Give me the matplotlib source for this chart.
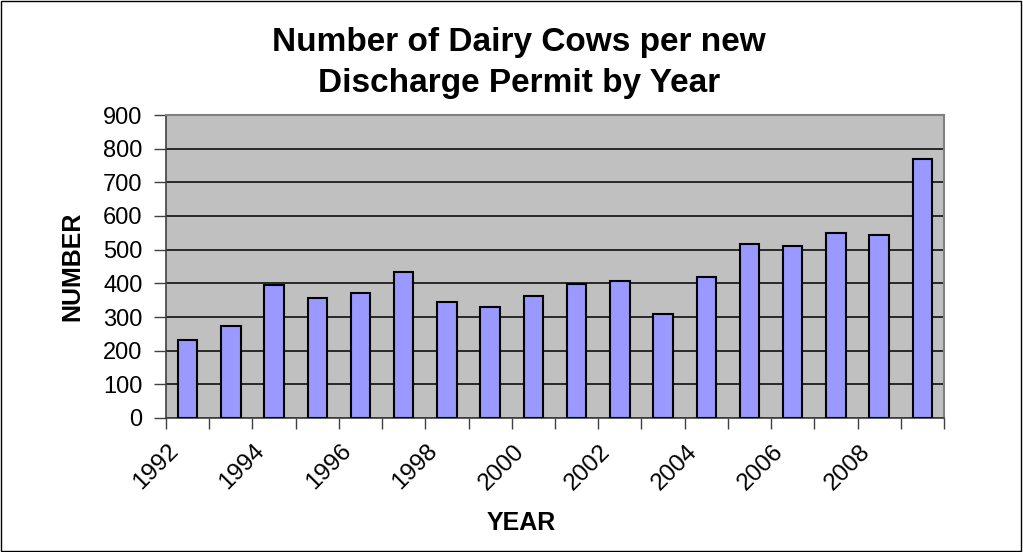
import matplotlib.pyplot as plt
from matplotlib.patches import Rectangle
from matplotlib.transforms import ScaledTranslation

plt.rcParams["font.family"] = ["Liberation Sans", "DejaVu Sans"]

years = list(range(1992, 2010))
cows = [231, 273, 394, 356, 372, 434, 346, 330, 362,
        398, 408, 309, 418, 518, 512, 550, 544, 769]
tick_years = ["1992", "1994", "1996", "1998", "2000", "2002", "2004", "2006", "2008"]
y_ticks = [0, 100, 200, 300, 400, 500, 600, 700, 800, 900]
title_lines = ["Number of Dairy Cows per new", "Discharge Permit by Year"]

W, H = 1023, 552
fig = plt.figure(figsize=(W / 100, H / 100), dpi=100)
# plot area in pixels: x 166..944, y 115..418
ax = fig.add_axes([166 / W, 1 - 418 / H, 778 / W, 303 / H])

x = list(range(len(years)))
ax.bar(x, cows, width=0.45, color="#9999FF", edgecolor="black", linewidth=1.5, zorder=3)

ax.set_facecolor("#C0C0C0")
ax.set_xlim(-0.5, len(years) - 0.5)
ax.set_ylim(0, 900)
ax.set_yticks(y_ticks)
ax.set_yticklabels([str(v) for v in y_ticks], fontsize=17)
ax.yaxis.grid(True, color="black", linewidth=1.1, zorder=1)
ax.set_axisbelow(True)

# ticks on category boundaries, year labels every other boundary
boundaries = [i - 0.5 for i in range(len(years) + 1)]
ax.set_xticks(boundaries)
ax.set_xticklabels([])
ax.tick_params(axis="x", direction="out", length=8, width=1, color="#404040")
ax.tick_params(axis="y", direction="out", length=9, width=1, color="#404040", pad=8)

offset = ScaledTranslation(9 / 100, -30 / 100, fig.dpi_scale_trans)
for i, lab in enumerate(tick_years):
    ax.text(boundaries[2 * i], 0, lab, fontsize=17.5, rotation=45, ha="right",
            va="center", rotation_mode="anchor",
            transform=ax.get_xaxis_transform() + offset)

for side in ["top", "right"]:
    ax.spines[side].set_color("#808080")
    ax.spines[side].set_linewidth(1.5)
for side in ["left", "bottom"]:
    ax.spines[side].set_color("#404040")
    ax.spines[side].set_linewidth(1.2)

for line, base in zip(title_lines, [51, 92]):
    fig.text(519 / W, 1 - base / H, line, fontsize=24, fontweight="bold",
             ha="center", va="baseline")

ax.set_ylabel("NUMBER", fontsize=18, fontweight="bold")
ax.yaxis.set_label_coords((72 - 166) / 778, 0.5)
ax.yaxis.label.set_va("center")
ax.set_xlabel("YEAR", fontsize=18, fontweight="bold")
ax.xaxis.set_label_coords((521 - 166) / 778, (418 - 523) / 303)
ax.xaxis.label.set_va("center")

fig.patches.append(Rectangle((0.0005, 0.001), 0.998, 0.997, transform=fig.transFigure,
                             fill=False, edgecolor="black", linewidth=1))

fig.savefig("out.png", dpi=100)
